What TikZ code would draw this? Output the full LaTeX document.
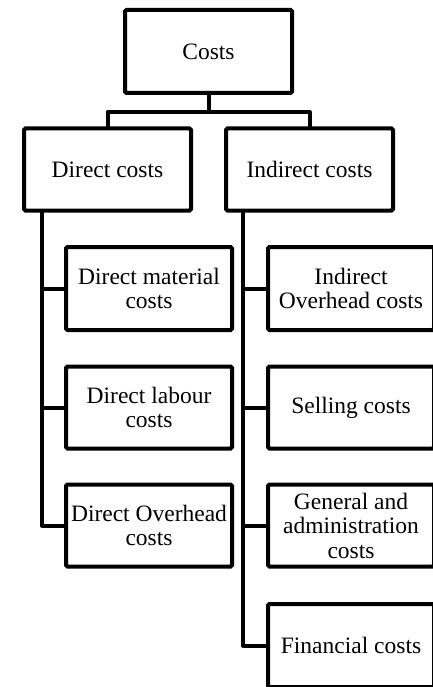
\documentclass[tikz,border=0pt]{standalone}
\usepackage{fontspec}
\setmainfont{Liberation Serif}
\usetikzlibrary{calc}
\begin{document}
\begin{tikzpicture}[x=1pt,y=1pt,
  box/.style={draw=black, line width=4pt, rounded corners=1.5pt, outer sep=0pt, inner sep=0pt,
    minimum width=167pt, minimum height=82pt, align=center,
    font=\fontsize{23.5}{24.5}\selectfont},
  link/.style={draw=black, line width=4pt, line join=round, line cap=rect}]
\path[use as bounding box, clip] (0,0) rectangle (433,-687);
% top level
\node[box, minimum height=83pt] (root) at (208.5,-51.5) {Costs};
\node[box] (dc) at (107.5,-169.5) {Direct costs};
\node[box] (ic) at (309.5,-169.5) {Indirect costs};
% left column
\node[box, minimum width=166pt, minimum height=83pt] (dmc) at (149,-288.5) {Direct material\\costs};
\node[box, minimum width=166pt] (dlc) at (149,-407.5) {Direct labour\\costs};
\node[box, minimum width=166pt] (doc) at (149,-525.5) {Direct Overhead\\costs};
% right column
\node[box, minimum width=166pt, minimum height=83pt] (ioc) at (351,-288.5) {Indirect\\Overhead costs};
\node[box, minimum width=166pt] (sc) at (351,-407.5) {Selling costs};
\node[box, minimum width=166pt] (gac) at (351,-525.5) {General and\\administration\\costs};
\node[box, minimum width=166pt, minimum height=83pt] (fc) at (351,-645.5) {Financial costs};
% connectors
\coordinate (lx) at ($(dc.south west)+(18,0)$);
\coordinate (rx) at ($(ic.south west)+(17,0)$);
\coordinate (bar) at ($(root.south)+(0,-19)$);
\draw[link] (root.south) -- (bar) -| (dc.north);
\draw[link] (bar) -| (ic.north);
\draw[link] (lx) |- (doc.west);
\draw[link] (dmc.west) -- (dmc.west -| lx);
\draw[link] (dlc.west) -- (dlc.west -| lx);
\draw[link] (rx) |- (fc.west);
\draw[link] (ioc.west) -- (ioc.west -| rx);
\draw[link] (sc.west) -- (sc.west -| rx);
\draw[link] (gac.west) -- (gac.west -| rx);
\end{tikzpicture}
\end{document}
